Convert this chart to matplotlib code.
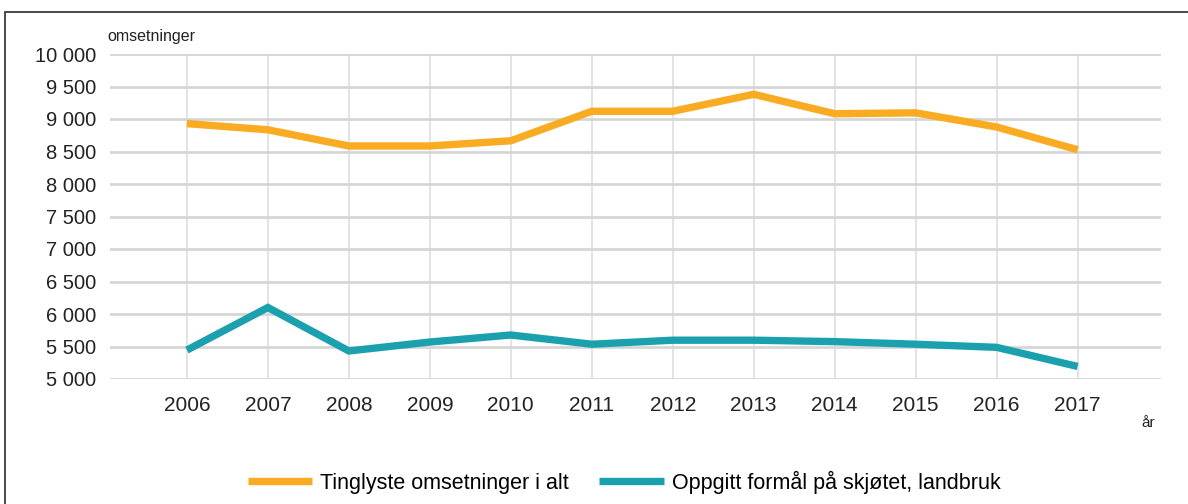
import matplotlib.pyplot as plt
from matplotlib.patches import Rectangle

years = [2006, 2007, 2008, 2009, 2010, 2011, 2012, 2013, 2014, 2015, 2016, 2017]
total = [8929, 8834, 8585, 8585, 8665, 9119, 9119, 9380, 9081, 9095, 8877, 8527]
farm = [5445, 6100, 5431, 5569, 5677, 5535, 5597, 5597, 5575, 5535, 5487, 5193]
yticks = [5000, 5500, 6000, 6500, 7000, 7500, 8000, 8500, 9000, 9500, 10000]
ytick_labels = ["5 000", "5 500", "6 000", "6 500", "7 000", "7 500",
                "8 000", "8 500", "9 000", "9 500", "10 000"]
series_names = ["Tinglyste omsetninger i alt", "Oppgitt formål på skjøtet, landbruk"]

plt.rcParams['font.family'] = ['Liberation Sans', 'DejaVu Sans']

fig = plt.figure(figsize=(11.88, 5.04), dpi=100)
ax = fig.add_axes([110 / 1188, 1 - 379 / 504, (1161 - 110) / 1188, (379 - 54) / 504])

# outer frame (only top and left edges show)
fig.patches.append(Rectangle((5 / 1188, -0.1), 1.2, 1 - 12 / 504 + 0.1,
                             transform=fig.transFigure, fill=False,
                             edgecolor='#3a3a3a', linewidth=1.3))

ax.plot(years, total, color='#F9AB22', linewidth=5.3, solid_joinstyle='miter',
        solid_capstyle='butt', label=series_names[0], zorder=3)
ax.plot(years, farm, color='#1BA1AE', linewidth=5.3, solid_joinstyle='miter',
        solid_capstyle='butt', label=series_names[1], zorder=3)

ax.set_xlim(2005.05, 2018.03)
ax.set_ylim(5000, 10000)
ax.set_yticks(yticks)
ax.set_yticklabels(ytick_labels, fontsize=14.5, color='#222222')
ax.set_xticks(years)
ax.set_xticklabels([str(y) for y in years], fontsize=15, color='#222222')
ax.tick_params(axis='both', length=0)
ax.tick_params(axis='y', pad=10)
ax.tick_params(axis='x', pad=12)

ax.grid(axis='y', color='#d6d6d6', linewidth=2, zorder=0)
ax.grid(axis='x', color='#e0e0e0', linewidth=1.3, zorder=0)
ax.set_axisbelow(True)
for s in ax.spines.values():
    s.set_visible(False)

fig.text(107 / 1188, 1 - 37 / 504, "omsetninger", fontsize=11.5, color='#222222',
         ha='left', va='center')
fig.text(1148 / 1188, 1 - 423 / 504, "år", fontsize=11, color='#222222',
         ha='center', va='center')

fig.legend(loc='center', bbox_to_anchor=(624 / 1188, 1 - 482 / 504), ncol=2,
           frameon=False, fontsize=15.5, handlelength=3.0, handletextpad=0.37,
           columnspacing=1.4)

fig.savefig("out.png", dpi=100)
